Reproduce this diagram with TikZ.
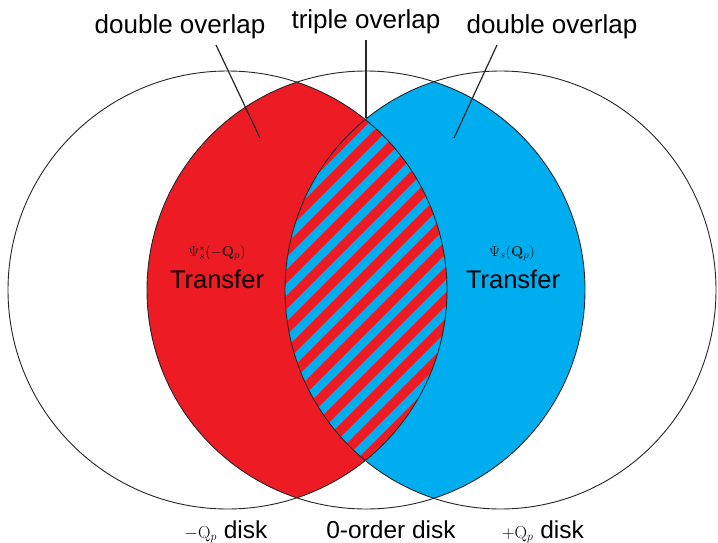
\documentclass[tikz,border=0pt]{standalone}
\usepackage[no-math]{fontspec}
\setmainfont{Liberation Sans}
\begin{document}
\begin{tikzpicture}[x=1pt,y=-1pt,
  disk/.style={draw=black!85, line width=0.9pt},
  leader/.style={draw=black!85, line width=1.2pt},
  lbl/.style={inner sep=0pt, font=\fontsize{26}{30}\selectfont},
  foot/.style={inner sep=0pt, font=\fontsize{24.5}{28}\selectfont},
  xfer/.style={inner sep=0pt, font=\fontsize{25.5}{30}\selectfont},
  psi/.style={inner sep=0pt, font=\fontsize{15}{17}\selectfont, text=black!90}]
\definecolor{redfill}{RGB}{237,28,36}
\definecolor{bluefill}{RGB}{0,174,239}
\useasboundingbox (0,0) rectangle (718,543);
\fill[white] (0,0) rectangle (718,543);

% double overlap of the 0-order disk with the -Qp disk
\begin{scope}
  \clip (366,290) circle [radius=219];
  \fill[redfill] (227.5,290) ellipse [x radius=219.5, y radius=219];
\end{scope}
% double overlap of the 0-order disk with the +Qp disk
\begin{scope}
  \clip (366,290) circle [radius=219];
  \fill[bluefill] (500.5,290) ellipse [x radius=215.5, y radius=219];
\end{scope}
% triple overlap: striped
\begin{scope}
  \clip (227.5,290) ellipse [x radius=219.5, y radius=219];
  \clip (500.5,290) ellipse [x radius=215.5, y radius=219];
  \fill[bluefill] (260,100) rectangle (480,480);
  \foreach \k in {-8,...,22} {
    \draw[redfill, line width=9.4pt] ({485+26*\k-100},100) -- ({485+26*\k-500},500);
  }
\end{scope}

% disk outlines
\draw[disk] (227.5,290) ellipse [x radius=219.5, y radius=219];
\draw[disk] (366,290) circle [radius=219];
\draw[disk] (500.5,290) ellipse [x radius=215.5, y radius=219];

% top labels and leaders
\node[lbl, anchor=base] (dblL) at (180,34) {double overlap};
\node[lbl, anchor=base] (tri) at (366,29) {triple overlap};
\node[lbl, anchor=base] (dblR) at (552,34) {double overlap};

\coordinate (dblLa) at (216,45);
\coordinate (dblLb) at (260,138);
\coordinate (tria) at (366,40);
\coordinate (trib) at (366,118);
\coordinate (dblRa) at (497,45);
\coordinate (dblRb) at (454,138);
\draw[leader] (dblLa) -- (dblLb);
\draw[leader] (tria) -- (trib);
\draw[leader] (dblRa) -- (dblRb);

% transfer labels
\node[psi] (psiL) at (217,253) {$\Psi_s^{*}(-\mathbf{Q}_p)$};
\node[xfer, anchor=base] (trL) at (217,288) {Transfer};
\node[psi] (psiR) at (512,253) {$\Psi_s(\mathbf{Q}_p)$};
\node[xfer, anchor=base] (trR) at (513,288) {Transfer};

% disk names
\node[foot, anchor=base] (mdisk) at (226,538) {{\fontsize{18}{18}\selectfont$-\mathrm{Q}_p$} disk};
\node[foot, anchor=base] (zdisk) at (391,538) {0-order disk};
\node[foot, anchor=base] (pdisk) at (543,538) {{\fontsize{18}{18}\selectfont$+\mathrm{Q}_p$} disk};
\end{tikzpicture}
\end{document}
